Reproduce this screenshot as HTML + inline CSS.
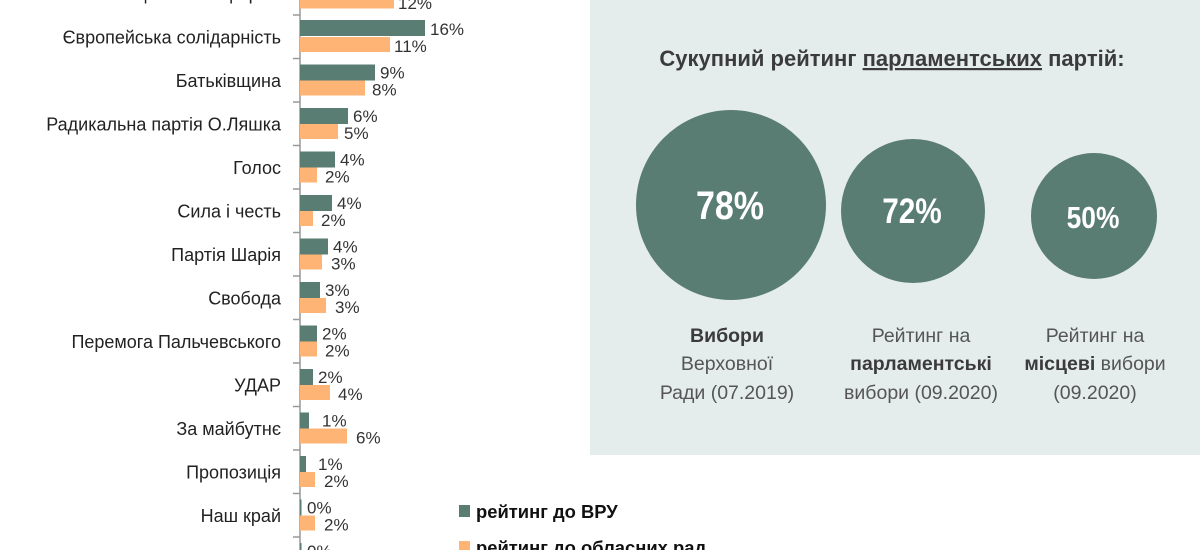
<!DOCTYPE html>
<html><head><meta charset="utf-8">
<style>
html,body{margin:0;padding:0;background:#fff;}
svg{display:block;font-family:"Liberation Sans",sans-serif;}
</style></head>
<body>
<svg width="1200" height="550" viewBox="0 0 1200 550" xmlns="http://www.w3.org/2000/svg">
<rect x="590" y="0" width="610" height="455" fill="#e4ecec"/>
<text x="892" y="66" text-anchor="middle" font-size="22" font-weight="bold" fill="#3b3b3b">Сукупний рейтинг <tspan text-decoration="underline">парламентських</tspan> партій:</text>
<circle cx="731" cy="205" r="95" fill="#5a7d73"/>
<circle cx="913" cy="211" r="72" fill="#5a7d73"/>
<circle cx="1094" cy="216" r="63" fill="#5a7d73"/>
<text transform="translate(730,219) scale(0.85,1)" text-anchor="middle" font-size="40" font-weight="bold" fill="#fff">78%</text>
<text transform="translate(912,223) scale(0.85,1)" text-anchor="middle" font-size="35" font-weight="bold" fill="#fff">72%</text>
<text transform="translate(1093,228) scale(0.85,1)" text-anchor="middle" font-size="31" font-weight="bold" fill="#fff">50%</text>
<g font-size="19.5" fill="#555" text-anchor="middle">
<text x="727" y="342" font-weight="bold" fill="#3b3b3b">Вибори</text>
<text x="727" y="370">Верховної</text>
<text x="727" y="399">Ради (07.2019)</text>
<text x="921" y="342">Рейтинг на</text>
<text x="921" y="370" font-weight="bold" fill="#3b3b3b">парламентські</text>
<text x="921" y="399">вибори (09.2020)</text>
<text x="1095" y="342">Рейтинг на</text>
<text x="1095" y="370"><tspan font-weight="bold" fill="#3b3b3b">місцеві</tspan> вибори</text>
<text x="1095" y="399">(09.2020)</text>
</g>
<line x1="300" y1="0" x2="300" y2="550" stroke="#999" stroke-width="1.5"/>
<g stroke="#999" stroke-width="1.5">
<line x1="293" y1="15" x2="300" y2="15"/><line x1="293" y1="58.5" x2="300" y2="58.5"/><line x1="293" y1="102" x2="300" y2="102"/><line x1="293" y1="145.5" x2="300" y2="145.5"/><line x1="293" y1="189" x2="300" y2="189"/><line x1="293" y1="232.5" x2="300" y2="232.5"/><line x1="293" y1="276" x2="300" y2="276"/><line x1="293" y1="319.5" x2="300" y2="319.5"/><line x1="293" y1="363" x2="300" y2="363"/><line x1="293" y1="406.5" x2="300" y2="406.5"/><line x1="293" y1="450" x2="300" y2="450"/><line x1="293" y1="493.5" x2="300" y2="493.5"/><line x1="293" y1="537" x2="300" y2="537"/>
</g>
<g font-size="18" fill="#222" text-anchor="end">
<text x="281" y="-0.5">Опозиційна платформа</text>
<text x="281" y="43.5">Європейська солідарність</text>
<text x="281" y="87">Батьківщина</text>
<text x="281" y="130.5">Радикальна партія О.Ляшка</text>
<text x="281" y="174">Голос</text>
<text x="281" y="217.5">Сила і честь</text>
<text x="281" y="261">Партія Шарія</text>
<text x="281" y="304.5">Свобода</text>
<text x="281" y="348">Перемога Пальчевського</text>
<text x="281" y="391.5">УДАР</text>
<text x="281" y="435">За майбутнє</text>
<text x="281" y="478.5">Пропозиція</text>
<text x="281" y="522">Наш край</text>
<text x="281" y="565.5">Самопоміч</text>
</g>
<g fill="#5a7d73">
<rect x="300" y="20" width="125" height="16"/>
<rect x="300" y="64.5" width="75" height="16"/>
<rect x="300" y="108" width="48" height="16"/>
<rect x="300" y="151.5" width="35" height="16"/>
<rect x="300" y="195" width="32" height="16"/>
<rect x="300" y="238.5" width="28" height="16"/>
<rect x="300" y="282" width="20" height="16"/>
<rect x="300" y="325.5" width="17" height="16"/>
<rect x="300" y="369" width="13" height="16"/>
<rect x="300" y="412.5" width="9" height="16"/>
<rect x="300" y="456" width="6" height="16"/>
<rect x="300" y="499.5" width="1.5" height="16"/>
<rect x="300" y="543" width="1.5" height="16"/>
</g>
<g fill="#fdb474">
<rect x="300" y="-6.5" width="94" height="15"/>
<rect x="300" y="37" width="90" height="15"/>
<rect x="300" y="80.5" width="65" height="15"/>
<rect x="300" y="124" width="38" height="15"/>
<rect x="300" y="167.5" width="17" height="15"/>
<rect x="300" y="211" width="13" height="15"/>
<rect x="300" y="254.5" width="22" height="15"/>
<rect x="300" y="298" width="26" height="15"/>
<rect x="300" y="341.5" width="17" height="15"/>
<rect x="300" y="385" width="30" height="15"/>
<rect x="300" y="428.5" width="47" height="15"/>
<rect x="300" y="472" width="15" height="15"/>
<rect x="300" y="515.5" width="15" height="15"/>
</g>
<g font-size="17" fill="#333">
<text x="430" y="35">16%</text>
<text x="380" y="78.5">9%</text>
<text x="353" y="122">6%</text>
<text x="340" y="165.5">4%</text>
<text x="337" y="209">4%</text>
<text x="333" y="252.5">4%</text>
<text x="325" y="296">3%</text>
<text x="322" y="339.5">2%</text>
<text x="318" y="383">2%</text>
<text x="322" y="426.5">1%</text>
<text x="318" y="470">1%</text>
<text x="307" y="513.5">0%</text>
<text x="307" y="557">0%</text>
<text x="398" y="9">12%</text>
<text x="394" y="52">11%</text>
<text x="372" y="95.5">8%</text>
<text x="344" y="139">5%</text>
<text x="325" y="182.5">2%</text>
<text x="321" y="226">2%</text>
<text x="331" y="269.5">3%</text>
<text x="335" y="313">3%</text>
<text x="325" y="356.5">2%</text>
<text x="338" y="400">4%</text>
<text x="356" y="443.5">6%</text>
<text x="324" y="487">2%</text>
<text x="324" y="530.5">2%</text>
</g>
<rect x="459" y="505" width="11" height="12" fill="#5a7d73"/>
<text x="476" y="518" font-size="18.4" font-weight="bold" fill="#111">рейтинг до ВРУ</text>
<rect x="459" y="541" width="11" height="12" fill="#fdb474"/>
<text x="476" y="554" font-size="18.4" font-weight="bold" fill="#111">рейтинг до обласних рад</text>
</svg>
</body></html>
